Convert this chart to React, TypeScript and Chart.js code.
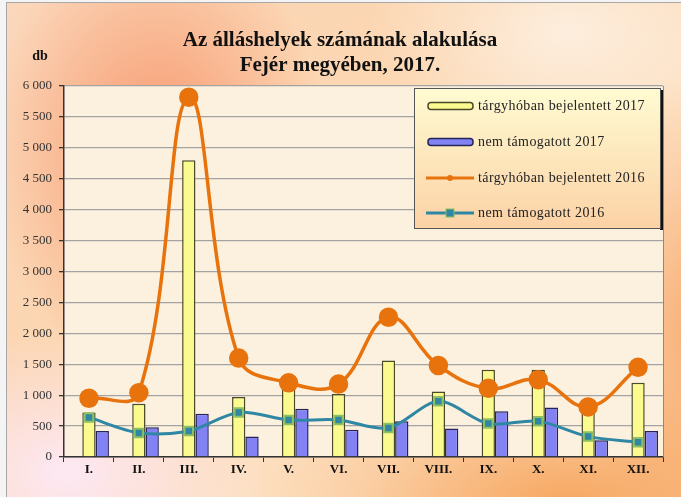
import React, { useEffect, useRef } from "react";
import { Chart, registerables } from "chart.js";

Chart.register(...registerables);

const categories = ["I.", "II.", "III.", "IV.", "V.", "VI.", "VII.", "VIII.", "IX.", "X.", "XI.", "XII."];
const reported2017 = [720, 860, 4800, 970, 1100, 1020, 1560, 1060, 1410, 1410, 750, 1200];
const unsupported2017 = [420, 480, 700, 330, 780, 440, 580, 460, 740, 800, 270, 420];
const reported2016 = [950, 1040, 5820, 1600, 1200, 1180, 2260, 1480, 1110, 1250, 810, 1450];
const unsupported2016 = [640, 390, 420, 720, 600, 600, 470, 900, 540, 580, 330, 240];

const labelReported2017 = "tárgyhóban bejelentett 2017";
const labelUnsupported2017 = "nem támogatott 2017";
const labelReported2016 = "tárgyhóban bejelentett 2016";
const labelUnsupported2016 = "nem támogatott 2016";

const titleLines = ["Az álláshelyek számának alakulása", "Fejér megyében, 2017."];
const yAxisUnit = "db";

const YELLOW = "#fbfa8e";
const YELLOW_BORDER = "#4a4a28";
const BLUE = "#8282f4";
const BLUE_BORDER = "#25255a";
const ORANGE = "#e8720c";
const TEAL = "#2f87a3";
const TEAL_MARKER_BORDER = "#8cc063";

const SERIF = '"Liberation Serif", "Times New Roman", serif';

const fmt = (v: number) => {
  const s = String(Math.round(v));
  return s.replace(/\B(?=(\d{3})+(?!\d))/g, " ");
};

const decorPlugin = {
  id: "decor",
  beforeDraw(chart: any) {
    const { ctx, chartArea } = chart;
    ctx.save();
    ctx.fillStyle = "#fcf1de";
    ctx.fillRect(chartArea.left, chartArea.top, chartArea.right - chartArea.left, chartArea.bottom - chartArea.top);
    ctx.restore();
  },
  afterDraw(chart: any) {
    const { ctx, chartArea } = chart;
    ctx.save();
    ctx.strokeStyle = "#8a8a8a";
    ctx.lineWidth = 1;
    ctx.beginPath();
    ctx.moveTo(chartArea.right + 0.5, chartArea.top);
    ctx.lineTo(chartArea.right + 0.5, chartArea.bottom);
    ctx.stroke();

    // title
    ctx.fillStyle = "#111";
    ctx.textAlign = "center";
    ctx.textBaseline = "middle";
    ctx.font = `bold 21px ${SERIF}`;
    ctx.fillText(titleLines[0], 340, 41);
    ctx.fillText(titleLines[1], 340, 66);
    ctx.font = `bold 14px ${SERIF}`;
    ctx.fillText(yAxisUnit, 40, 56);

    // legend
    const lx = 414, ly = 88, lw = 246, lh = 140;
    ctx.fillStyle = "#111";
    ctx.fillRect(lx + lw, ly + 2, 3, lh);
    const g = ctx.createLinearGradient(0, ly, 0, ly + lh);
    g.addColorStop(0, "#fffbd2");
    g.addColorStop(1, "#fcd2a6");
    ctx.fillStyle = g;
    ctx.fillRect(lx, ly, lw, lh);
    ctx.strokeStyle = "#555";
    ctx.lineWidth = 1;
    ctx.strokeRect(lx + 0.5, ly + 0.5, lw, lh);

    const rows = [
      { label: labelReported2017, kind: "bar", fill: YELLOW, stroke: YELLOW_BORDER },
      { label: labelUnsupported2017, kind: "bar", fill: BLUE, stroke: BLUE_BORDER },
      { label: labelReported2016, kind: "line", fill: ORANGE, stroke: ORANGE },
      { label: labelUnsupported2016, kind: "rectline", fill: TEAL, stroke: TEAL },
    ];
    const rowY = [106, 142, 178, 213];
    rows.forEach((r, i) => {
      const cy = rowY[i];
      if (r.kind === "bar") {
        ctx.beginPath();
        (ctx as any).roundRect(428, cy - 3.5, 45, 7, 3);
        ctx.fillStyle = r.fill;
        ctx.fill();
        ctx.lineWidth = 1.5;
        ctx.strokeStyle = r.stroke;
        ctx.stroke();
      } else {
        ctx.strokeStyle = r.stroke;
        ctx.lineWidth = 3;
        ctx.beginPath();
        ctx.moveTo(426, cy);
        ctx.lineTo(474, cy);
        ctx.stroke();
        if (r.kind === "line") {
          ctx.fillStyle = r.fill;
          ctx.beginPath();
          ctx.arc(450, cy, 3, 0, Math.PI * 2);
          ctx.fill();
        } else {
          ctx.fillStyle = r.fill;
          ctx.fillRect(446, cy - 4, 8, 8);
          ctx.strokeStyle = TEAL_MARKER_BORDER;
          ctx.lineWidth = 1;
          ctx.strokeRect(446, cy - 4, 8, 8);
        }
      }
      ctx.fillStyle = "#222";
      ctx.textAlign = "left";
      ctx.textBaseline = "middle";
      ctx.font = `14px ${SERIF}`;
      (ctx as any).letterSpacing = "0.4px";
      ctx.fillText(r.label, 478, cy);
      (ctx as any).letterSpacing = "0px";
    });
    ctx.restore();
  },
};

export default function App() {
  const ref = useRef<HTMLCanvasElement | null>(null);

  useEffect(() => {
    if (!ref.current) return;
    const chart = new Chart(ref.current, {
      type: "bar",
      data: {
        labels: categories,
        datasets: [
          {
            type: "line",
            label: labelUnsupported2016,
            data: unsupported2016,
            borderColor: TEAL,
            backgroundColor: TEAL,
            borderWidth: 3,
            tension: 0.3,
            pointStyle: "rect",
            pointRadius: 6,
            pointBackgroundColor: TEAL,
            pointBorderColor: TEAL_MARKER_BORDER,
            pointBorderWidth: 2,
            order: 0,
          } as any,
          {
            type: "line",
            label: labelReported2016,
            data: reported2016,
            borderColor: ORANGE,
            backgroundColor: ORANGE,
            borderWidth: 3.5,
            tension: 0.4,
            pointStyle: "circle",
            pointRadius: 8,
            pointBackgroundColor: ORANGE,
            pointBorderColor: ORANGE,
            order: 0,
          } as any,
          {
            type: "bar",
            label: "",
            data: categories.map(() => null),
            order: 1,
          } as any,
          {
            type: "bar",
            label: labelReported2017,
            data: reported2017,
            backgroundColor: YELLOW,
            borderColor: YELLOW_BORDER,
            borderWidth: 1.5,
            order: 1,
          } as any,
          {
            type: "bar",
            label: labelUnsupported2017,
            data: unsupported2017,
            backgroundColor: BLUE,
            borderColor: BLUE_BORDER,
            borderWidth: 1.5,
            order: 1,
          } as any,
        ],
      },
      options: {
        responsive: false,
        animation: false,
        datasets: {
          bar: { barPercentage: 1, categoryPercentage: 0.8 },
        },
        layout: { padding: { left: 0, right: 18, top: 86, bottom: 0 } },
        plugins: {
          legend: { display: false },
          title: { display: false },
          tooltip: { enabled: false },
        },
        scales: {
          x: {
            offset: true,
            grid: {
              display: true,
              drawOnChartArea: false,
              offset: true,
              tickLength: 5,
              color: "#333",
              lineWidth: 1,
            },
            border: { color: "#333", width: 1.5 },
            ticks: {
              color: "#111",
              font: { family: SERIF, size: 13, weight: "bold" },
              padding: 0,
              maxRotation: 0,
            },
            afterFit(scale: any) {
              scale.height = 40;
            },
          },
          y: {
            min: 0,
            max: 6000,
            ticks: {
              stepSize: 500,
              color: "#333",
              font: { family: SERIF, size: 13 },
              padding: 7,
              callback: (v: any) => fmt(Number(v)),
            },
            grid: {
              color: "#a3a3a3",
              lineWidth: 1.3,
              tickLength: 5,
              tickColor: "#333",
            },
            border: { color: "#333", width: 1.5 },
            afterFit(scale: any) {
              scale.width = 64;
            },
          },
        },
      },
      plugins: [decorPlugin],
    } as any);
    return () => chart.destroy();
  }, []);

  return (
    <div style={{ position: "fixed", left: 0, top: 0, width: 681, height: 497, background: "#f4f4f4", overflow: "hidden" }}>
      <div
        style={{
          position: "absolute",
          left: 6,
          top: 2,
          width: 690,
          height: 510,
          borderTop: "1px solid #a8a8a8",
          borderLeft: "1px solid #a8a8a8",
          background:
            "radial-gradient(ellipse 170px 230px at 150px 150px, rgba(246,148,106,0.95) 0%, rgba(246,148,106,0) 100%)," +
            "radial-gradient(ellipse 200px 140px at 60px 470px, rgba(253,232,244,1) 0%, rgba(253,232,244,0) 100%)," +
            "radial-gradient(ellipse 320px 140px at 560px 500px, rgba(247,168,98,1) 0%, rgba(247,168,98,0) 100%)," +
            "radial-gradient(ellipse 120px 260px at 690px 330px, rgba(247,170,110,0.9) 0%, rgba(247,170,110,0) 100%)," +
            "radial-gradient(ellipse 200px 120px at 560px 30px, rgba(253,238,222,1) 0%, rgba(253,238,222,0) 100%)," +
            "linear-gradient(135deg, #fbd7bb 0%, #fcd6b0 40%, #fde4c8 70%, #fbd0a8 100%)",
        }}
      />
      <canvas
        ref={ref}
        width={681}
        height={497}
        style={{ position: "absolute", left: 0, top: 0, width: 681, height: 497 }}
      />
    </div>
  );
}
